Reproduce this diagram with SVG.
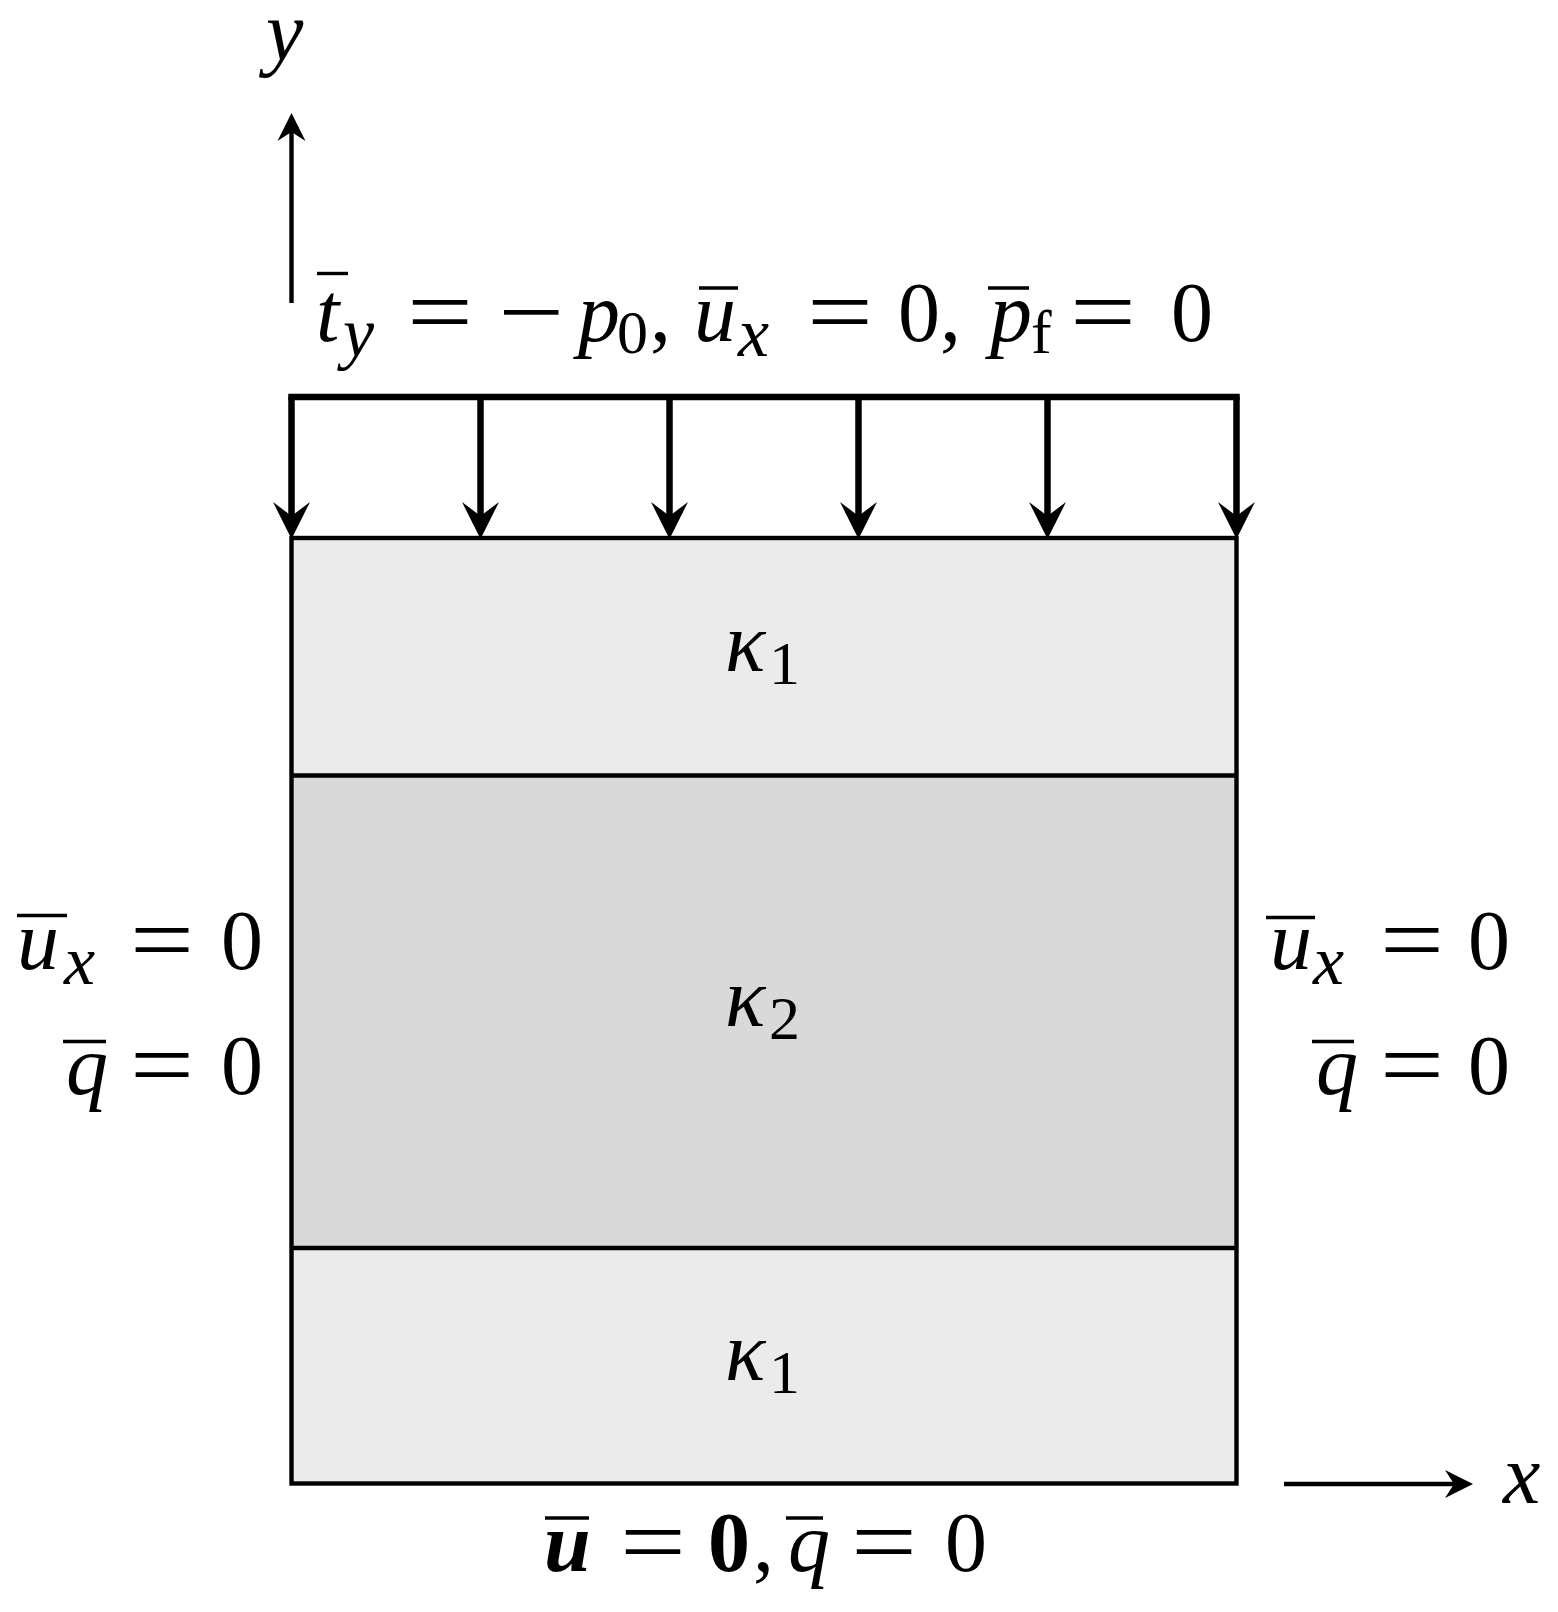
<svg xmlns="http://www.w3.org/2000/svg" width="1558" height="1612" viewBox="0 0 1558 1612">
<style>
.m{font-family:"Liberation Serif",serif;font-style:italic;font-size:84px;fill:#000}
.r{font-family:"Liberation Serif",serif;font-style:normal;font-size:84px;fill:#000}
.s{font-family:"Liberation Serif",serif;font-style:normal;font-size:96px;fill:#000}
.sub{font-size:62px}
.xs{font-size:70px}
.bar{stroke:#000;stroke-width:3.4;fill:none}
.load{stroke:#000;stroke-width:6.5;fill:none}
.axis{stroke:#000;stroke-width:4.4;fill:none}
.edge{stroke:#000;stroke-width:4.4;fill:none}
</style>
<defs>
<marker id="headLoad" markerUnits="userSpaceOnUse" viewBox="-42 -22 47 44" markerWidth="47" markerHeight="44" refX="-22" refY="0" orient="auto" overflow="visible">
<path d="M0,0 L-37,-18.5 L-23,0 L-37,18.5 Z" fill="#000"/>
</marker>
<marker id="headAxis" markerUnits="userSpaceOnUse" viewBox="-32 -16 36 32" markerWidth="36" markerHeight="32" refX="-18" refY="0" orient="auto" overflow="visible">
<path d="M0,0 L-28,-14 L-19,0 L-28,14 Z" fill="#000"/>
</marker>
</defs>
<rect width="1558" height="1612" fill="#fff"/>

<g id="domain">
<rect id="layer-top" x="291.5" y="538" width="945" height="237.5" fill="#EBEBEB"/>
<rect id="layer-mid" x="291.5" y="775.5" width="945" height="472.5" fill="#D9D9D9"/>
<rect id="layer-bot" x="291.5" y="1248" width="945" height="235.5" fill="#EBEBEB"/>
<line class="edge" x1="291.5" y1="775.5" x2="1236.5" y2="775.5"/>
<line class="edge" x1="291.5" y1="1248" x2="1236.5" y2="1248"/>
<rect class="edge" x="291.5" y="538" width="945" height="945.5"/>
</g>

<g id="connectors">
<line class="load" x1="288.25" y1="397" x2="1239.75" y2="397"/>
<line class="load" x1="291.5" y1="397" x2="291.5" y2="517" marker-end="url(#headLoad)"/>
<line class="load" x1="480.5" y1="397" x2="480.5" y2="517" marker-end="url(#headLoad)"/>
<line class="load" x1="669.5" y1="397" x2="669.5" y2="517" marker-end="url(#headLoad)"/>
<line class="load" x1="858.5" y1="397" x2="858.5" y2="517" marker-end="url(#headLoad)"/>
<line class="load" x1="1047.5" y1="397" x2="1047.5" y2="517" marker-end="url(#headLoad)"/>
<line class="load" x1="1236.5" y1="397" x2="1236.5" y2="517" marker-end="url(#headLoad)"/>
<line class="axis" x1="291.5" y1="303" x2="291.5" y2="131" marker-end="url(#headAxis)"/>
<line class="axis" x1="1284" y1="1484" x2="1455" y2="1484" marker-end="url(#headAxis)"/>
</g>

<g id="label-y"><text class="m" x="266" y="60">y</text></g>
<g id="label-x"><text class="m" x="1503" y="1503">x</text></g>

<g id="label-top">
<text class="m" x="316" y="341">t</text>
<text class="m xs" x="343" y="356">y</text>
<text class="s" x="407" y="344" textLength="66" lengthAdjust="spacingAndGlyphs">=</text>
<text class="s" x="498" y="344" textLength="66" lengthAdjust="spacingAndGlyphs">−</text>
<text class="m" x="578" y="341">p</text>
<text class="r sub" x="617" y="353">0</text>
<text class="r" x="650" y="341">,</text>
<text class="m" x="694" y="341">u</text>
<text class="m xs" x="738" y="356">x</text>
<text class="s" x="807" y="344" textLength="66" lengthAdjust="spacingAndGlyphs">=</text>
<text class="r" x="898" y="341">0,</text>
<text class="m" x="990" y="341">p</text>
<text class="r sub" x="1031" y="353">f</text>
<text class="s" x="1070" y="344" textLength="66" lengthAdjust="spacingAndGlyphs">=</text>
<text class="r" x="1171" y="341">0</text>
<line class="bar" x1="317" y1="273.5" x2="348" y2="273.5"/>
<line class="bar" x1="699" y1="288" x2="738" y2="288"/>
<line class="bar" x1="988" y1="288" x2="1029" y2="288"/>
</g>

<g id="label-left">
<text class="m" x="17" y="969">u</text>
<text class="m xs" x="64" y="984">x</text>
<text class="s" x="130" y="972" textLength="64" lengthAdjust="spacingAndGlyphs">=</text>
<text class="r" x="221" y="969">0</text>
<text class="m" x="66" y="1094">q</text>
<text class="s" x="130" y="1097" textLength="64" lengthAdjust="spacingAndGlyphs">=</text>
<text class="r" x="221" y="1094">0</text>
<line class="bar" x1="17" y1="915.5" x2="67" y2="915.5"/>
<line class="bar" x1="63" y1="1041.5" x2="106" y2="1041.5"/>
</g>

<g id="label-right">
<text class="m" x="1270" y="969">u</text>
<text class="m xs" x="1313" y="984">x</text>
<text class="s" x="1380" y="972" textLength="64" lengthAdjust="spacingAndGlyphs">=</text>
<text class="r" x="1468" y="969">0</text>
<text class="m" x="1316" y="1094">q</text>
<text class="s" x="1380" y="1097" textLength="64" lengthAdjust="spacingAndGlyphs">=</text>
<text class="r" x="1468" y="1094">0</text>
<line class="bar" x1="1266" y1="917.5" x2="1315" y2="917.5"/>
<line class="bar" x1="1312" y1="1041.5" x2="1354" y2="1041.5"/>
</g>

<g id="label-bottom">
<text class="m" x="544" y="1571" font-weight="bold">u</text>
<text class="s" x="620" y="1574" textLength="66" lengthAdjust="spacingAndGlyphs">=</text>
<text class="r" x="708" y="1571" font-weight="bold">0</text>
<text class="r" x="753" y="1571">,</text>
<text class="m" x="788" y="1571">q</text>
<text class="s" x="851" y="1574" textLength="66" lengthAdjust="spacingAndGlyphs">=</text>
<text class="r" x="945" y="1571">0</text>
<line class="bar" x1="545" y1="1518" x2="589" y2="1518"/>
<line class="bar" x1="786" y1="1518" x2="823" y2="1518"/>
</g>

<g id="kappa-top"><text class="m" x="725" y="671">κ</text><text class="r sub" x="769" y="684">1</text></g>
<g id="kappa-mid"><text class="m" x="725" y="1026">κ</text><text class="r sub" x="769" y="1039">2</text></g>
<g id="kappa-bot"><text class="m" x="725" y="1380">κ</text><text class="r sub" x="769" y="1393">1</text></g>
</svg>
